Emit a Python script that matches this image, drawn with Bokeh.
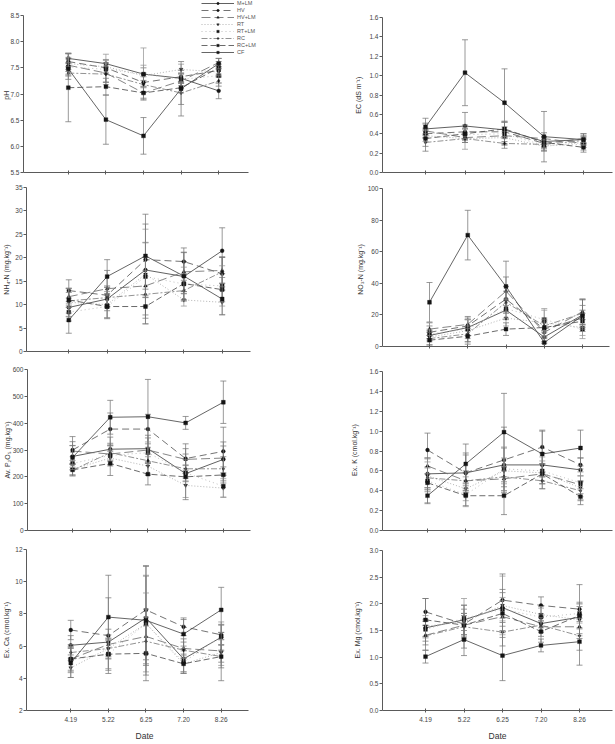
from bokeh.plotting import figure
from bokeh.layouts import column, row
from bokeh.models import (Range1d, FixedTicker, Legend, LegendItem,
                          PrintfTickFormatter)
from bokeh.embed import file_html
from bokeh.resources import INLINE

FONT = "Liberation Sans"

dates = ["4.19", "5.22", "6.25", "7.20", "8.26"]
treatments = ["M+LM", "HV", "HV+LM", "RT", "RT+LM", "RC", "RC+LM", "CF"]

# ---- soil pH ----
ph_mean = [
    [7.68, 7.58, 7.38, 7.30, 7.06],
    [7.62, 7.50, 7.22, 7.33, 7.45],
    [7.55, 7.40, 7.02, 7.25, 7.60],
    [7.58, 7.52, 7.35, 7.47, 7.42],
    [7.52, 7.47, 7.38, 7.28, 7.35],
    [7.40, 7.38, 7.18, 7.02, 7.25],
    [7.12, 7.14, 7.02, 7.12, 7.50],
    [7.48, 6.51, 6.20, 7.10, 7.58],
]
ph_err = [
    [0.10, 0.08, 0.12, 0.10, 0.15],
    [0.15, 0.10, 0.18, 0.12, 0.12],
    [0.12, 0.18, 0.10, 0.14, 0.08],
    [0.20, 0.12, 0.20, 0.10, 0.10],
    [0.18, 0.29, 0.50, 0.12, 0.14],
    [0.12, 0.15, 0.15, 0.22, 0.10],
    [0.65, 0.16, 0.12, 0.10, 0.12],
    [0.12, 0.47, 0.35, 0.52, 0.10],
]

# ---- EC ----
ec_mean = [
    [0.45, 0.48, 0.44, 0.32, 0.34],
    [0.40, 0.42, 0.42, 0.30, 0.35],
    [0.43, 0.36, 0.38, 0.35, 0.30],
    [0.38, 0.35, 0.36, 0.27, 0.31],
    [0.41, 0.39, 0.40, 0.28, 0.29],
    [0.31, 0.35, 0.30, 0.29, 0.33],
    [0.35, 0.40, 0.45, 0.31, 0.26],
    [0.47, 1.03, 0.72, 0.37, 0.34],
]
ec_err = [
    [0.06, 0.14, 0.08, 0.05, 0.04],
    [0.05, 0.07, 0.10, 0.04, 0.05],
    [0.07, 0.05, 0.09, 0.06, 0.04],
    [0.06, 0.11, 0.06, 0.04, 0.05],
    [0.05, 0.06, 0.12, 0.05, 0.06],
    [0.09, 0.04, 0.05, 0.07, 0.04],
    [0.08, 0.05, 0.08, 0.06, 0.05],
    [0.09, 0.34, 0.35, 0.26, 0.06],
]

# ---- NH4-N ----
nh4_mean = [
    [9.4, 11.2, 17.4, 16.0, 21.5],
    [13.0, 12.0, 19.6, 19.2, 16.6],
    [11.7, 13.4, 14.0, 17.0, 17.3],
    [10.5, 10.0, 16.5, 11.0, 10.5],
    [8.4, 9.6, 16.0, 14.4, 14.0],
    [10.8, 11.5, 12.2, 13.0, 17.0],
    [11.0, 9.6, 9.6, 14.5, 13.2],
    [6.7, 16.0, 20.4, 16.1, 11.2],
]
nh4_err = [
    [2.0, 2.5, 5.8, 3.2, 4.9],
    [2.3, 2.0, 7.6, 2.9, 3.5],
    [1.8, 3.9, 6.2, 4.2, 2.8],
    [3.0, 2.8, 6.8, 1.3, 2.6],
    [1.9, 2.4, 10.1, 3.6, 4.3],
    [2.6, 2.2, 5.1, 2.2, 3.2],
    [1.6, 2.6, 3.7, 2.1, 2.6],
    [2.8, 3.6, 8.9, 5.0, 3.4],
]

# ---- NO3-N ----
no3_mean = [
    [7, 12, 23, 6, 20],
    [9, 13, 30, 11, 18],
    [11, 14, 35, 9, 22],
    [6, 10, 18, 15, 12],
    [8, 11, 24, 17, 11],
    [5, 8, 28, 13, 21],
    [4, 6.5, 11, 12, 16],
    [28, 70.5, 38, 2.5, 19.5],
]
no3_err = [
    [3, 5, 6, 4, 6],
    [4, 6, 8, 5, 5],
    [4, 4, 9, 6, 8],
    [3, 7, 5, 8, 5],
    [3, 6, 6, 7, 6],
    [4, 5, 7, 4, 9],
    [3, 5, 4, 6, 5],
    [12.5, 15.7, 16, 2.5, 10],
]

# ---- available P2O5 ----
avp_mean = [
    [276, 303, 305, 212, 265],
    [300, 378, 378, 268, 295],
    [296, 285, 300, 265, 270],
    [228, 270, 240, 168, 158],
    [250, 280, 290, 215, 165],
    [225, 290, 260, 230, 230],
    [226, 250, 210, 200, 207],
    [272, 422, 424, 401, 478],
]
avp_err = [
    [40, 45, 50, 30, 50],
    [50, 60, 55, 55, 90],
    [35, 40, 45, 40, 60],
    [20, 30, 35, 45, 35],
    [25, 35, 40, 30, 40],
    [22, 28, 50, 35, 45],
    [20, 45, 40, 85, 30],
    [45, 63, 139, 24, 79],
]

# ---- exchangeable K ----
k_mean = [
    [0.57, 0.58, 0.66, 0.66, 0.61],
    [0.81, 0.58, 0.71, 0.84, 0.66],
    [0.65, 0.50, 0.52, 0.57, 0.46],
    [0.55, 0.42, 0.60, 0.58, 0.43],
    [0.50, 0.36, 0.62, 0.60, 0.48],
    [0.53, 0.50, 0.54, 0.50, 0.40],
    [0.48, 0.35, 0.35, 0.57, 0.34],
    [0.35, 0.67, 0.99, 0.77, 0.83],
]
k_err = [
    [0.16, 0.20, 0.17, 0.12, 0.12],
    [0.17, 0.18, 0.33, 0.17, 0.07],
    [0.08, 0.10, 0.12, 0.10, 0.09],
    [0.14, 0.12, 0.13, 0.16, 0.12],
    [0.22, 0.12, 0.22, 0.10, 0.14],
    [0.10, 0.08, 0.10, 0.08, 0.10],
    [0.09, 0.10, 0.19, 0.10, 0.08],
    [0.08, 0.20, 0.39, 0.23, 0.18],
]

# ---- exchangeable Ca ----
ca_mean = [
    [6.05, 6.25, 7.75, 5.2, 6.55],
    [7.0, 6.65, 8.25, 7.2, 6.7],
    [5.2, 6.1, 6.6, 5.85, 5.7],
    [4.65, 5.85, 7.4, 4.9, 5.6],
    [5.15, 5.5, 7.4, 5.0, 6.6],
    [5.6, 5.85, 6.3, 5.75, 5.35],
    [5.2, 5.5, 5.55, 4.9, 5.35],
    [4.95, 7.8, 7.6, 6.75, 8.25],
]
ca_err = [
    [0.6, 0.8, 2.6, 0.8, 0.8],
    [0.6, 2.35, 2.7, 0.55, 0.6],
    [0.8, 0.6, 1.7, 0.6, 0.7],
    [0.6, 0.5, 1.9, 0.5, 0.8],
    [0.8, 0.9, 3.0, 0.7, 0.9],
    [0.5, 0.6, 1.5, 0.5, 0.7],
    [0.7, 1.0, 1.7, 0.6, 1.5],
    [0.9, 2.6, 3.4, 0.9, 1.4],
]

# ---- exchangeable Mg ----
mg_mean = [
    [1.55, 1.70, 1.93, 1.63, 1.75],
    [1.85, 1.62, 2.07, 1.97, 1.90],
    [1.41, 1.60, 1.76, 1.57, 1.57],
    [1.58, 1.66, 1.97, 1.80, 1.70],
    [1.52, 1.73, 1.90, 1.75, 1.82],
    [1.40, 1.57, 1.47, 1.60, 1.40],
    [1.70, 1.60, 1.82, 1.48, 1.78],
    [1.01, 1.33, 1.03, 1.22, 1.29],
]
mg_err = [
    [0.16, 0.20, 0.28, 0.14, 0.20],
    [0.25, 0.20, 0.49, 0.16, 0.46],
    [0.18, 0.22, 0.30, 0.18, 0.22],
    [0.20, 0.32, 0.55, 0.12, 0.30],
    [0.16, 0.37, 0.22, 0.20, 0.18],
    [0.27, 0.40, 0.26, 0.14, 0.27],
    [0.40, 0.18, 0.45, 0.20, 0.25],
    [0.12, 0.30, 0.47, 0.12, 0.44],
]

# line / marker look of each treatment
STYLE = {
    "M+LM":  dict(dash="solid",   color="#454545", marker="circle"),
    "HV":    dict(dash="7 4",     color="#5a5a5a", marker="circle"),
    "HV+LM": dict(dash="9 4",     color="#707070", marker="triangle"),
    "RT":    dict(dash="1 2",     color="#a5a5a5", marker="inverted_triangle"),
    "RT+LM": dict(dash="1 3",     color="#b5b5b5", marker="square"),
    "RC":    dict(dash="6 2 2 2", color="#808080", marker="diamond"),
    "RC+LM": dict(dash="6 3",     color="#505050", marker="square"),
    "CF":    dict(dash="solid",   color="#4a4a4a", marker="square"),
}

xs = list(range(1, len(dates) + 1))


def panel(means, errs, ylim, yticks, fmt, ytitle, title_gap, fig, axes_box, frame_box,
          ends, title_shift=0, show_dates=False, with_legend=False):
    """axes_box: pixel extent of the drawn axes; frame_box: plotting area,
    shared by the panels of one row / column."""
    fx, fy, fw, fh = fig
    L, R, T, B = axes_box
    L2, R2, T2, B2 = frame_box
    a, b = ends
    xstep = (b - a) / (len(xs) - 1)
    ystep = (B - T) / (ylim[1] - ylim[0])
    x_lo = xs[0] - (a - L2) / xstep
    xr = Range1d(x_lo, xs[-1] + (R2 - b) / xstep)
    yr = Range1d(ylim[0] - (B2 - B) / ystep, ylim[1] + (T - T2) / ystep)
    p = figure(width=fw, height=fh, x_range=xr, y_range=yr,
               output_backend="svg", toolbar_location=None,
               min_border_left=L2 - fx, min_border_right=fx + fw - R2,
               min_border_top=T2 - fy, min_border_bottom=fy + fh - B2)
    p.outline_line_color = None
    p.grid.visible = False
    p.background_fill_color = "white"
    p.border_fill_color = "white"

    for ax in (p.xaxis[0], p.yaxis[0]):
        ax.axis_line_color = "#5a5a5a"
        ax.axis_line_width = 1
        ax.major_tick_line_color = "#5a5a5a"
        ax.minor_tick_line_color = None
        ax.major_label_text_font = FONT
        ax.major_label_text_color = "#444444"
        ax.major_label_text_font_size = "6.5px"

    # trailing no-break spaces nudge the centred title down along the axis
    pad = "\u00a0" * int(round(2 * title_shift / 1.95))
    ya = p.yaxis[0]
    ya.ticker = FixedTicker(ticks=yticks)
    ya.formatter = PrintfTickFormatter(format=fmt)
    ya.bounds = ylim
    ya.major_tick_out = 3
    ya.major_tick_in = 0
    ya.major_label_standoff = 1
    ya.axis_label = ytitle + pad
    ya.axis_label_text_font = FONT
    ya.axis_label_text_font_style = "normal"
    ya.axis_label_text_font_size = "7px"
    ya.axis_label_text_color = "#333333"
    ya.axis_label_standoff = title_gap

    xa = p.xaxis[0]
    xa.ticker = FixedTicker(ticks=xs)
    xa.bounds = (x_lo, xs[-1] + (R - b) / xstep)
    xa.major_tick_out = 2
    xa.major_tick_in = 2
    if B < B2:
        xa.fixed_location = ylim[0]
    if show_dates:
        xa.major_label_overrides = {x: d for x, d in zip(xs, dates)}
        xa.major_label_standoff = 4
        xa.axis_label = "Date"
        xa.axis_label_text_font = FONT
        xa.axis_label_text_font_style = "normal"
        xa.axis_label_text_font_size = "8.5px"
        xa.axis_label_text_color = "#333333"
        xa.axis_label_standoff = 6
    else:
        xa.major_label_overrides = {x: "" for x in xs}
        xa.major_label_text_font_size = "0px"
        xa.major_label_standoff = 0

    items = []
    for i, name in enumerate(treatments):
        st = STYLE[name]
        m = means[i]
        e = errs[i]
        lo = [v - d for v, d in zip(m, e)]
        hi = [v + d for v, d in zip(m, e)]
        bar_col = "#959595" if name.startswith("RT") else "#777777"
        p.segment(x0=xs, y0=lo, x1=xs, y1=hi, line_color=bar_col, line_width=0.75)
        p.scatter(xs, lo, marker="dash", size=6, line_color=bar_col, line_width=0.75)
        p.scatter(xs, hi, marker="dash", size=6, line_color=bar_col, line_width=0.75)
        ln = p.line(xs, m, line_color=st["color"], line_width=0.85, line_dash=st["dash"])
        mk = p.scatter(xs, m, marker=st["marker"], size=3.8, fill_color="#151515",
                       line_color="#151515", line_width=0.4)
        items.append(LegendItem(label=name, renderers=[ln, mk]))

    if with_legend:
        leg = Legend(items=items, location=(200 - L2, B2 - 55), glyph_width=33,
                     glyph_height=6, label_height=6, spacing=1, padding=0,
                     margin=0, label_standoff=3, label_text_font=FONT,
                     label_text_font_size="5.5px", label_text_color="#555555",
                     border_line_color=None, background_fill_alpha=0)
        p.add_layout(leg)
    return p


LW, RW = 307, 308
# shared plotting areas per row (left column / right column)
ROW_TB = [(0, 172), (187, 351), (369, 530), (549, 710)]
LEFT_LR = (22, 262)
RIGHT_LR = (382, 612)


def fb(side, r):
    lr = LEFT_LR if side == 0 else RIGHT_LR
    return (lr[0], lr[1], ROW_TB[r][0], ROW_TB[r][1])


p1 = panel(ph_mean, ph_err, (5.5, 8.5), [5.5, 6.0, 6.5, 7.0, 7.5, 8.0, 8.5], "%.1f",
           "pH", -3, (0, 0, LW, 180), (22, 248, 15, 172), fb(0, 0), (67, 218),
           title_shift=9, with_legend=True)
p2 = panel(ec_mean, ec_err, (0, 1.6), [0, 0.2, 0.4, 0.6, 0.8, 1.0, 1.2, 1.4, 1.6], "%.1f",
           "EC (dS m\u207b\u00b9)", 4, (LW, 0, RW, 180), (382, 612, 17, 172), fb(1, 0),
           (425, 583), title_shift=9)
p3 = panel(nh4_mean, nh4_err, (0, 35), [0, 5, 10, 15, 20, 25, 30, 35], "%d",
           "NH\u2084-N (mg.kg\u207b\u00b9)", 2, (0, 180, LW, 180), (22, 250, 187, 351),
           fb(0, 1), (65, 221))
p4 = panel(no3_mean, no3_err, (0, 100), [0, 20, 40, 60, 80, 100], "%d",
           "NO\u2083-N (mg.kg\u207b\u00b9)", 1, (LW, 180, RW, 180), (382, 609, 188, 346),
           fb(1, 1), (429, 582))
p5 = panel(avp_mean, avp_err, (0, 600), [0, 100, 200, 300, 400, 500, 600], "%d",
           "Av. P\u2082O\u2085 (mg.kg\u207b\u00b9)", -1, (0, 360, LW, 180), (22, 250, 369, 530),
           fb(0, 2), (68, 222))
p6 = panel(k_mean, k_err, (0, 1.6), [0, 0.2, 0.4, 0.6, 0.8, 1.0, 1.2, 1.4, 1.6], "%.1f",
           "Ex. K (cmol.kg\u207b\u00b9)", 8, (LW, 360, RW, 180), (382, 612, 371, 530),
           fb(1, 2), (427, 580))
p7 = panel(ca_mean, ca_err, (2, 12), [2, 4, 6, 8, 10, 12], "%d",
           "Ex. Ca (cmol.kg\u207b\u00b9)", 2, (0, 540, LW, 204), (22, 248, 549, 710),
           fb(0, 3), (67, 220), show_dates=True)
p8 = panel(mg_mean, mg_err, (0, 3.0), [0, 0.5, 1.0, 1.5, 2.0, 2.5, 3.0], "%.1f",
           "Ex. Mg (cmol.kg\u207b\u00b9)", 5, (LW, 540, RW, 204), (382, 612, 550, 710),
           fb(1, 3), (425, 579), show_dates=True)

layout = column(row(p1, p2), row(p3, p4), row(p5, p6), row(p7, p8))

open("out.html", "w").write(file_html(layout, INLINE))
